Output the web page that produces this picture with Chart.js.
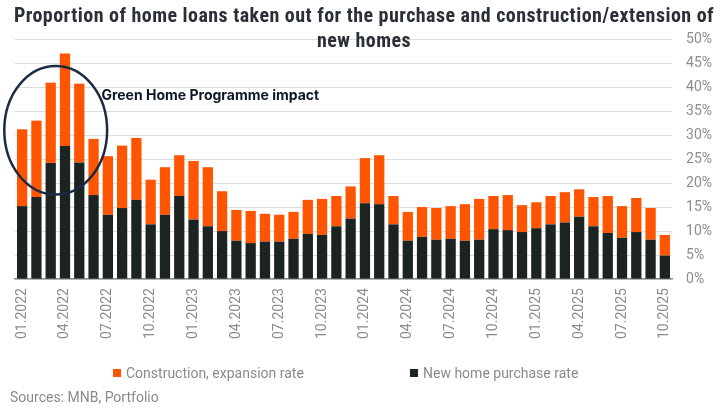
<!DOCTYPE html>
<html>
<head>
<meta charset="utf-8">
<script src="https://cdn.jsdelivr.net/npm/chart.js@4.4.1/dist/chart.umd.min.js"></script>
<style>
  html, body { margin: 0; padding: 0; background: #fff; }
  #wrap { position: relative; width: 728px; height: 410px; }
  #title {
    position: absolute; left: 0; top: 3px; width: 728px; text-align: center;
    font-family: 'Liberation Sans Narrow', 'Roboto Condensed', 'DejaVu Sans Condensed', sans-serif;
    font-weight: bold; font-size: 20px; line-height: 25px; color: #2b3038;
    letter-spacing: 0.45px; pointer-events: none;
  }
  #legend {
    position: absolute; left: 0; top: 365px; width: 728px; height: 20px;
    font-family: Roboto, sans-serif; font-size: 14px; color: #8a8a8a;
  }
  #legend span.item { position: absolute; top: 0; white-space: nowrap; }
  #legend span.box { display: inline-block; width: 8px; height: 8px; margin-right: 5px; vertical-align: 1px; }
  #source {
    position: absolute; left: 10px; top: 389px;
    font-family: Roboto, sans-serif; font-size: 14px; color: #8a8a8a;
  }
</style>
</head>
<body>
<div id="wrap">
  <canvas id="chart" width="728" height="410"></canvas>
  <div id="title">Proportion of home loans taken out for the purchase and construction/extension of<br>new homes</div>
  <div id="legend"></div>
  <div id="source">Sources: MNB, Portfolio</div>
</div>
<script>
const months = [
  '01.2022','02.2022','03.2022','04.2022','05.2022','06.2022','07.2022','08.2022','09.2022','10.2022','11.2022','12.2022',
  '01.2023','02.2023','03.2023','04.2023','05.2023','06.2023','07.2023','08.2023','09.2023','10.2023','11.2023','12.2023',
  '01.2024','02.2024','03.2024','04.2024','05.2024','06.2024','07.2024','08.2024','09.2024','10.2024','11.2024','12.2024',
  '01.2025','02.2025','03.2025','04.2025','05.2025','06.2025','07.2025','08.2025','09.2025','10.2025'
];

// share of new home purchase loans (%)
const purchaseRate = [
  15.2, 17.1, 24.2, 27.7, 24.3, 17.5, 13.4, 14.8, 16.5, 11.4, 13.4, 17.3,
  12.4, 11.0, 10.0, 8.0, 7.5, 7.8, 7.8, 8.4, 9.4, 9.2, 11.0, 12.6,
  15.8, 15.6, 11.4, 8.0, 8.8, 8.2, 8.4, 8.0, 8.2, 10.4, 10.2, 9.8,
  10.6, 11.4, 11.8, 13.0, 11.0, 9.6, 8.6, 9.8, 8.2, 4.9
];

// share of construction / expansion loans (%), stacked on top
const constructionRate = [
  16.0, 15.9, 16.7, 19.3, 16.4, 11.7, 12.2, 13.0, 12.9, 9.3, 9.9, 8.5,
  12.2, 12.3, 8.3, 6.4, 6.7, 5.8, 5.6, 5.6, 7.1, 7.5, 6.3, 6.7,
  9.4, 10.2, 5.9, 6.0, 6.2, 6.6, 6.8, 7.6, 8.5, 6.9, 7.3, 5.6,
  5.4, 5.9, 6.3, 5.7, 6.1, 7.7, 6.6, 7.1, 6.6, 4.3
];

const yTicks = [0, 5, 10, 15, 20, 25, 30, 35, 40, 45, 50];

const orange = '#ff5500';
const dark = '#1c2422';

// ellipse + label drawn on the chart, positioned in data units
const highlight = {
  centerIndex: 2.35, centerValue: 31, halfIndex: 3.6, halfValue: 13.4,
  label: 'Green Home Programme impact', labelIndex: 5.55, labelValue: 37.2
};

const highlightPlugin = {
  id: 'highlight',
  afterDatasetsDraw(chart) {
    const { ctx, scales: { x, y } } = chart;
    const cx = x.getPixelForValue(highlight.centerIndex);
    const cy = y.getPixelForValue(highlight.centerValue);
    const rx = x.getPixelForValue(highlight.centerIndex + highlight.halfIndex) - cx;
    const ry = cy - y.getPixelForValue(highlight.centerValue + highlight.halfValue);
    ctx.save();
    ctx.beginPath();
    ctx.ellipse(cx, cy, rx, ry, 0, 0, Math.PI * 2);
    ctx.lineWidth = 2.5;
    ctx.strokeStyle = '#1b2b42';
    ctx.stroke();
    ctx.font = 'bold 14px Inter, Roboto, sans-serif';
    ctx.fillStyle = '#0d1726';
    ctx.textBaseline = 'alphabetic';
    ctx.fillText(highlight.label, x.getPixelForValue(highlight.labelIndex), y.getPixelForValue(highlight.labelValue));
    ctx.restore();
  }
};

// first dataset sits at the bottom of each stack
const datasets = [
  { label: 'New home purchase rate', data: purchaseRate, backgroundColor: dark },
  { label: 'Construction, expansion rate', data: constructionRate, backgroundColor: orange }
];

new Chart(document.getElementById('chart'), {
  type: 'bar',
  data: {
    labels: months,
    datasets: datasets.map(d => ({ ...d, barPercentage: 0.72, categoryPercentage: 1 }))
  },
  options: {
    responsive: false,
    animation: false,
    layout: { padding: { top: 39, left: 15, right: 2, bottom: 62 } },
    plugins: {
      legend: { display: false },
      tooltip: { enabled: false }
    },
    scales: {
      x: {
        stacked: true,
        grid: { display: false, drawTicks: false },
        border: { color: '#8c8c8c', width: 1.5 },
        ticks: {
          autoSkip: false,
          minRotation: 90,
          maxRotation: 90,
          padding: 9,
          color: '#8c8c8c',
          font: { family: 'Roboto', size: 14 },
          callback: (v, i) => (i % 3 === 0 ? months[i] : '')
        }
      },
      y: {
        stacked: true,
        position: 'right',
        min: 0,
        max: 50,
        afterBuildTicks: axis => { axis.ticks = yTicks.map(v => ({ value: v })); },
        grid: { color: '#dcdcdc', lineWidth: 1, drawTicks: false },
        border: { display: false },
        ticks: {
          padding: 14,
          color: '#8c8c8c',
          font: { family: 'Roboto', size: 14 },
          callback: v => v + '%'
        }
      }
    }
  },
  plugins: [highlightPlugin]
});

// legend, construction first as in the source
const legendEl = document.getElementById('legend');
const legendLeft = [113, 410];
[datasets[1], datasets[0]].forEach((d, i) => {
  const item = document.createElement('span');
  item.className = 'item';
  item.style.left = legendLeft[i] + 'px';
  const box = document.createElement('span');
  box.className = 'box';
  box.style.background = d.backgroundColor;
  item.appendChild(box);
  item.appendChild(document.createTextNode(d.label));
  legendEl.appendChild(item);
});
</script>
</body>
</html>
